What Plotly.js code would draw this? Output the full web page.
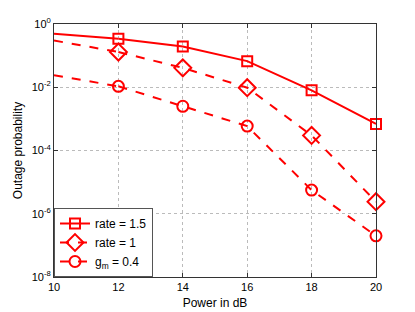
<!DOCTYPE html>
<html><head><meta charset="utf-8">
<script src="https://cdn.plot.ly/plotly-3.0.1.min.js"></script>
<style>body{margin:0;background:#fff}#plot{width:415px;height:312px}</style>
</head><body><div id="plot"></div>
<script>
const power = [10, 12, 14, 16, 18, 20];
const rate15 = [0.49, 0.34, 0.195, 0.067, 0.008, 6.9e-4];
const rate1 = [0.30, 0.13, 0.041, 0.0097, 3.0e-4, 2.4e-6];
const gm04 = [0.024, 0.0107, 0.0025, 5.9e-4, 5.6e-6, 2.0e-7];
const seriesNames = ['rate = 1.5', 'rate = 1', 'g<sub>m</sub> = 0.4'];
const yTickExps = [-8, -6, -4, -2, 0];
const xTicks = [10, 12, 14, 16, 18, 20];

const red = '#ff0000';
const styles = [
  {dash: 'solid', symbol: 'square-open', size: 10},
  {dash: 'dash', symbol: 'diamond-open', size: 13},
  {dash: 'dash', symbol: 'circle-open', size: 11}
];
const series = [rate15, rate1, gm04];
const traces = [];
series.forEach((ys, i) => {
  const s = styles[i];
  traces.push({x: power.slice(0, 2), y: ys.slice(0, 2), mode: 'lines', showlegend: false,
    cliponaxis: false, hoverinfo: 'skip',
    line: {color: red, width: 2, dash: s.dash}});
  traces.push({x: power.slice(1), y: ys.slice(1), name: seriesNames[i], mode: 'lines+markers',
    cliponaxis: false,
    line: {color: red, width: 2, dash: s.dash},
    marker: {symbol: s.symbol, size: s.size, color: red, line: {width: 2, color: red}}});
});

const fam = 'Liberation Sans, Arial, sans-serif';
const layout = {
  width: 415, height: 312,
  margin: {l: 54, r: 38.5, t: 23.5, b: 35},
  paper_bgcolor: '#fff', plot_bgcolor: '#fff',
  font: {family: fam, size: 11, color: '#000'},
  showlegend: true,
  legend: {x: 0, y: 0, xanchor: 'left', yanchor: 'bottom', bgcolor: '#fff',
           bordercolor: '#555', borderwidth: 1, font: {family: fam, size: 12},
           itemwidth: 30},
  xaxis: {range: [10, 20], tickvals: xTicks, ticktext: xTicks.map(String),
          ticks: 'inside', ticklen: 4, tickcolor: '#333', mirror: 'ticks',
          showline: true, linecolor: '#333', linewidth: 1,
          showgrid: true, gridcolor: '#bbb', griddash: 'dot', gridwidth: 1,
          zeroline: false, tickfont: {size: 11},
          title: {text: 'Power in dB', font: {size: 12}, standoff: 6}},
  yaxis: {type: 'log', range: [-8, 0],
          tickvals: yTickExps.map(e => Math.pow(10, e)),
          ticktext: yTickExps.map(e => '10<sup>' + e + '</sup>'),
          ticks: 'inside', ticklen: 4, tickcolor: '#333', mirror: 'ticks',
          showline: true, linecolor: '#333', linewidth: 1,
          showgrid: true, gridcolor: '#bbb', griddash: 'dot', gridwidth: 1,
          zeroline: false, tickfont: {size: 11},
          title: {text: 'Outage probability', font: {size: 12}, standoff: 6}}
};
Plotly.newPlot('plot', traces, layout, {displayModeBar: false, staticPlot: true});
</script></body></html>
